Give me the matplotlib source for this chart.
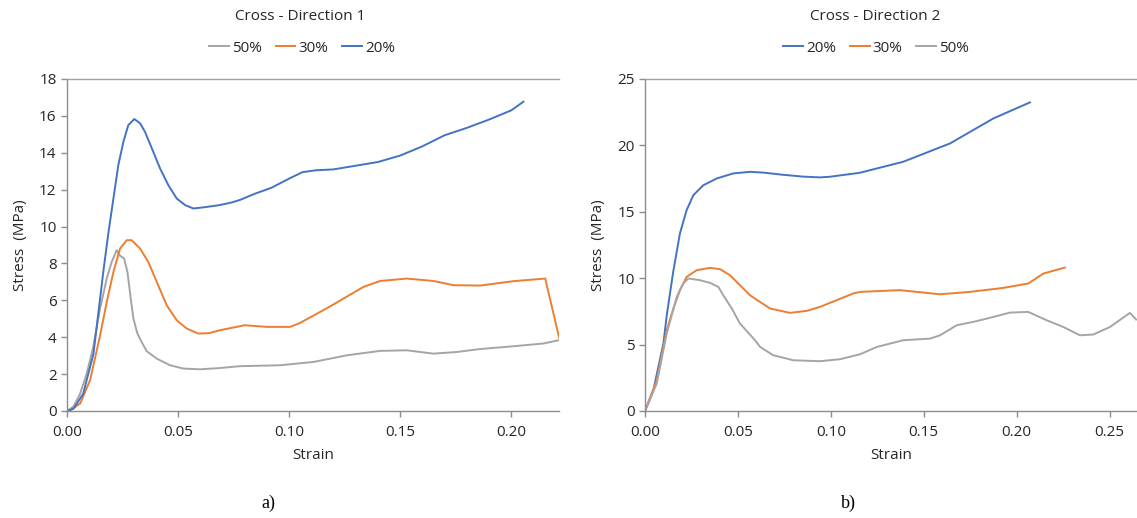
import numpy as np
import matplotlib
matplotlib.use("Agg")
import matplotlib.pyplot as plt

plt.rcParams['font.family'] = ['Open Sans', 'DejaVu Sans']

# ---- Direction 1 data (strain, stress MPa) ----
d1_20_x = [0, 0.003, 0.0073, 0.0119, 0.0164, 0.0186, 0.0209, 0.0231, 0.0254, 0.0276,
           0.0303, 0.0329, 0.0351, 0.0382, 0.0419, 0.0456, 0.0494, 0.0532, 0.0569, 0.0614,
           0.0680, 0.0740, 0.0780, 0.085, 0.092, 0.100, 0.106, 0.112, 0.120, 0.130,
           0.140, 0.150, 0.160, 0.170, 0.180, 0.190, 0.200, 0.2055]
d1_20_y = [0, 0.13, 0.94, 3.1, 7.6, 9.63, 11.52, 13.33, 14.6, 15.5,
           15.83, 15.6, 15.14, 14.24, 13.15, 12.25, 11.52, 11.16, 10.98, 11.04,
           11.15, 11.3, 11.45, 11.8, 12.1, 12.6, 12.95, 13.05, 13.1, 13.3,
           13.5, 13.85, 14.35, 14.95, 15.35, 15.8, 16.3, 16.77]

d1_30_x = [0, 0.0014, 0.0059, 0.0104, 0.0149, 0.0179, 0.0209, 0.0239, 0.0269, 0.0291,
           0.0329, 0.0366, 0.0404, 0.0449, 0.0494, 0.0539, 0.0591, 0.0640, 0.0689, 0.0800,
           0.0900, 0.1005, 0.105, 0.118, 0.1335, 0.141, 0.153, 0.165, 0.174, 0.186,
           0.201, 0.2153, 0.2215]
d1_30_y = [0, 0.04, 0.4, 1.67, 4.1, 5.91, 7.54, 8.81, 9.26, 9.26,
           8.81, 8.08, 7.0, 5.73, 4.92, 4.47, 4.2, 4.22, 4.38, 4.65,
           4.56, 4.56, 4.78, 5.64, 6.73, 7.05, 7.18, 7.05, 6.82, 6.8,
           7.04, 7.18, 4.0]

d1_50_x = [0, 0.003, 0.0059, 0.0089, 0.0118, 0.0149, 0.0179, 0.0201, 0.0224, 0.0236,
           0.0257, 0.0272, 0.0287, 0.0299, 0.0317, 0.0336, 0.0359, 0.0404, 0.0464, 0.0524,
           0.0599, 0.0689, 0.0779, 0.096, 0.111, 0.126, 0.141, 0.153, 0.165, 0.1755,
           0.186, 0.201, 0.2145, 0.2215]
d1_50_y = [0, 0.25, 0.94, 2.03, 3.47, 5.56, 7.18, 8.08, 8.72, 8.45,
           8.27, 7.54, 6.1, 5.01, 4.2, 3.74, 3.24, 2.84, 2.48, 2.3,
           2.26, 2.33, 2.43, 2.48, 2.66, 3.02, 3.26, 3.29, 3.11, 3.2,
           3.36, 3.51, 3.66, 3.84]

# ---- Direction 2 data ----
d2_20_x = [0, 0.0045, 0.0099, 0.0117, 0.0152, 0.0188, 0.0224, 0.026, 0.0314, 0.0386,
           0.0475, 0.0565, 0.0640, 0.0727, 0.0850, 0.0942, 0.0996, 0.1157, 0.139, 0.1642,
           0.1875, 0.2072]
d2_20_y = [0, 1.56, 5.08, 7.2, 10.5, 13.37, 15.12, 16.25, 17.0, 17.51,
           17.89, 18.01, 17.95, 17.81, 17.65, 17.59, 17.64, 17.94, 18.77, 20.15,
           22.03, 23.24]

d2_30_x = [0, 0.0063, 0.0117, 0.0152, 0.0188, 0.0224, 0.0278, 0.035, 0.0404, 0.0457,
           0.0511, 0.0565, 0.0619, 0.0673, 0.078, 0.087, 0.0942, 0.1121, 0.1157, 0.1372,
           0.1588, 0.1749, 0.1928, 0.2063, 0.2144, 0.226]
d2_30_y = [0, 2.31, 6.08, 7.7, 9.1, 10.1, 10.6, 10.78, 10.68, 10.23,
           9.47, 8.72, 8.21, 7.72, 7.39, 7.54, 7.84, 8.85, 8.97, 9.1,
           8.79, 8.97, 9.27, 9.6, 10.35, 10.8]

d2_50_x = [0, 0.0063, 0.0117, 0.0171, 0.0206, 0.0233, 0.0296, 0.035, 0.0395, 0.0421,
           0.0467, 0.0511, 0.0592, 0.0619, 0.069, 0.0798, 0.0942, 0.1050, 0.1157, 0.1247,
           0.139, 0.1534, 0.1588, 0.1678, 0.1767, 0.1875, 0.1964, 0.2063, 0.2162, 0.2251,
           0.2341, 0.2413, 0.2503, 0.261, 0.2643]
d2_50_y = [0, 2.06, 5.83, 8.59, 9.6, 9.98, 9.85, 9.65, 9.34, 8.72,
           7.72, 6.59, 5.33, 4.83, 4.2, 3.82, 3.75, 3.9, 4.27, 4.82,
           5.33, 5.45, 5.7, 6.46, 6.71, 7.08, 7.41, 7.46, 6.83, 6.33,
           5.7, 5.76, 6.33, 7.39, 6.89]

BLUE = '#4472C4'
ORANGE = '#ED7D31'
GRAY = '#A5A5A5'
TXT = '#262626'

fig = plt.figure(figsize=(11.37, 5.18), dpi=100)
ax1 = fig.add_axes([67/1137, 107/518, 492/1137, 332/518])
ax2 = fig.add_axes([645/1137, 107/518, 492/1137, 332/518])


def style(ax, ymax, ystep, xmax, xticks):
    ax.set_xlim(0, xmax)
    ax.set_ylim(0, ymax)
    ax.set_yticks(np.arange(0, ymax + 0.1, ystep))
    ax.set_xticks(xticks)
    ax.set_xticklabels([f'{t:.2f}' for t in xticks])
    for s in ['left', 'bottom']:
        ax.spines[s].set_color('#8c8c8c')
        ax.spines[s].set_linewidth(1.0)
    ax.spines['top'].set_color('#a0a0a0')
    ax.spines['top'].set_linewidth(1.0)
    ax.spines['right'].set_visible(False)
    ax.tick_params(axis='both', colors='#8c8c8c', labelcolor=TXT, labelsize=11,
                   length=4, width=1.0, direction='out')
    ax.tick_params(axis='x', pad=6)
    ax.set_xlabel('Strain', fontsize=11, color=TXT, labelpad=6)
    ax.set_ylabel('Stress  (MPa)', fontsize=11, color=TXT, labelpad=8)


lw = 1.4
ax1.plot(d1_50_x, d1_50_y, color=GRAY, lw=lw, label='50%')
ax1.plot(d1_30_x, d1_30_y, color=ORANGE, lw=lw, label='30%')
ax1.plot(d1_20_x, d1_20_y, color=BLUE, lw=lw, label='20%')
style(ax1, 18, 2, 0.2215, [0, 0.05, 0.10, 0.15, 0.20])

ax2.plot(d2_20_x, d2_20_y, color=BLUE, lw=lw, label='20%')
ax2.plot(d2_30_x, d2_30_y, color=ORANGE, lw=lw, label='30%')
ax2.plot(d2_50_x, d2_50_y, color=GRAY, lw=lw, label='50%')
style(ax2, 25, 5, 0.2648, [0, 0.05, 0.10, 0.15, 0.20, 0.25])

fig.text(300/1137, 1 - 17/518, 'Cross - Direction 1', ha='center', va='center', fontsize=11, color=TXT)
fig.text(875/1137, 1 - 17/518, 'Cross - Direction 2', ha='center', va='center', fontsize=11, color=TXT)

for ax, cx in [(ax1, 302), (ax2, 876)]:
    ax.legend(loc='center', bbox_to_anchor=(cx/1137, 1 - 48/518), bbox_transform=fig.transFigure,
              ncol=3, frameon=False, fontsize=11, handlelength=1.3, handletextpad=0.2,
              columnspacing=0.9, labelcolor=TXT)

fig.text(268/1137, 1 - 503/518, 'a)', ha='center', va='center', fontsize=13,
         family='Liberation Serif', color='black')
fig.text(848/1137, 1 - 503/518, 'b)', ha='center', va='center', fontsize=13,
         family='Liberation Serif', color='black')

fig.savefig('out.png', dpi=100)
